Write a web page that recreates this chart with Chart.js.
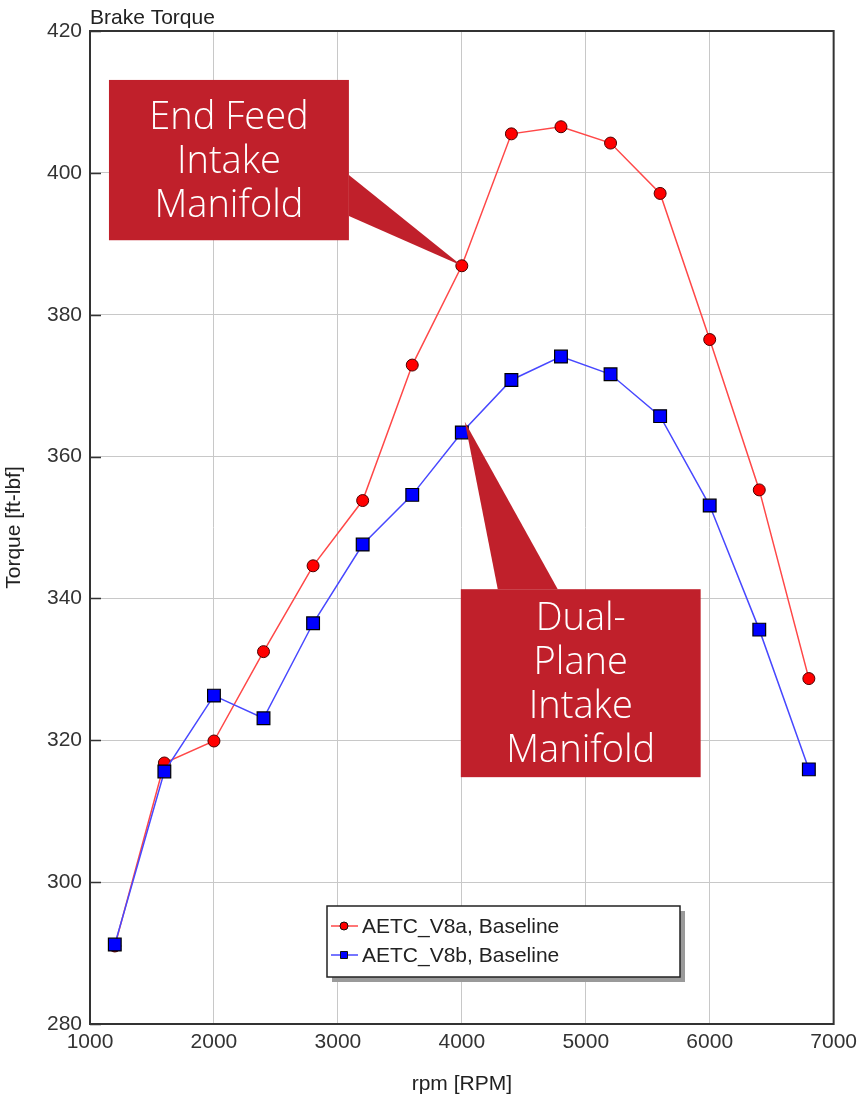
<!DOCTYPE html>
<html>
<head>
<meta charset="utf-8">
<script src="https://cdn.jsdelivr.net/npm/chart.js@4"></script>
<style>
  html, body { margin: 0; padding: 0; background: #fff; }
  #wrap { width: 863px; height: 1100px; }
</style>
</head>
<body>
<div id="wrap"><canvas id="torqueChart" width="863" height="1100"></canvas></div>
<script>
// engine speed points
const rpm = [1200, 1600, 2000, 2400, 2800, 3200, 3600, 4000, 4400, 4800, 5200, 5600, 6000, 6400, 6800];
// Brake torque [ft-lbf]
const torqueV8a = [291.0, 316.8, 319.9, 332.5, 344.6, 353.8, 372.9, 386.9, 405.5, 406.5, 404.2, 397.1, 376.5, 355.3, 328.7];
const torqueV8b = [291.2, 315.6, 326.3, 323.1, 336.5, 347.6, 354.6, 363.4, 370.8, 374.1, 371.6, 365.7, 353.1, 335.6, 315.9];
const seriesNames = ['AETC_V8a, Baseline', 'AETC_V8b, Baseline'];
const xRange = [1000, 7000];
const yRange = [280, 420];

// callouts (data units)
const callouts = [
    { lines: ['End Feed', 'Intake', 'Manifold'], box: [1153, 413.1, 3089, 390.5],
      base: [[3089, 399.7], [3089, 393.9]], tip: [4000, 386.9] },
    { lines: ['Dual-', 'Plane', 'Intake', 'Manifold'], box: [3992, 341.3, 5927, 314.8],
      base: [[4290, 341.3], [4774, 341.3]], tip: [4024, 364.9] }
];

const FONT = "'Liberation Sans', Arial, sans-serif";

const extras = {
    id: 'extras',
    afterDraw(chart) {
        const { ctx, chartArea: a, scales: { x, y } } = chart;
        ctx.save();

        // plot frame
        ctx.strokeStyle = '#333';
        ctx.lineWidth = 2;
        ctx.strokeRect(a.left, a.top, a.right - a.left, a.bottom - a.top);

        // inward ticks on y axis
        ctx.lineWidth = 1.5;
        ctx.beginPath();
        for (let v = yRange[0]; v <= yRange[1]; v += 20) {
            const py = Math.round(y.getPixelForValue(v)) + 0.5;
            ctx.moveTo(a.left, py);
            ctx.lineTo(a.left + 11, py);
        }
        ctx.stroke();

        // title
        ctx.fillStyle = '#222';
        ctx.font = '21px ' + FONT;
        ctx.textAlign = 'left';
        ctx.textBaseline = 'alphabetic';
        ctx.fillText('Brake Torque', a.left, a.top - 7);

        // callouts
        callouts.forEach(c => {
            const x0 = x.getPixelForValue(c.box[0]), y0 = y.getPixelForValue(c.box[1]);
            const x1 = x.getPixelForValue(c.box[2]), y1 = y.getPixelForValue(c.box[3]);
            ctx.fillStyle = '#c0202b';
            ctx.fillRect(x0, y0, x1 - x0, y1 - y0);
            ctx.beginPath();
            ctx.moveTo(x.getPixelForValue(c.base[0][0]), y.getPixelForValue(c.base[0][1]));
            ctx.lineTo(x.getPixelForValue(c.tip[0]), y.getPixelForValue(c.tip[1]));
            ctx.lineTo(x.getPixelForValue(c.base[1][0]), y.getPixelForValue(c.base[1][1]));
            ctx.closePath();
            ctx.fill();
            ctx.fillStyle = '#fff';
            ctx.font = "300 38px 'Open Sans', sans-serif";
            ctx.textAlign = 'center';
            ctx.textBaseline = 'middle';
            const cx = (x0 + x1) / 2, cy = (y0 + y1) / 2, lh = 44;
            c.lines.forEach((t, i) => {
                ctx.fillText(t, cx, cy + 2 + (i - (c.lines.length - 1) / 2) * lh);
            });
        });

        // legend box
        const L = 327, T = 906, W = 353, H = 71;
        ctx.fillStyle = '#9a9a9a';
        ctx.fillRect(L + 5, T + 5, W, H);
        ctx.fillStyle = '#fff';
        ctx.fillRect(L, T, W, H);
        ctx.strokeStyle = '#222';
        ctx.lineWidth = 1.5;
        ctx.strokeRect(L, T, W, H);
        chart.data.datasets.forEach((ds, i) => {
            const ry = T + 20 + i * 29;
            ctx.strokeStyle = ds.borderColor;
            ctx.lineWidth = 1.5;
            ctx.beginPath();
            ctx.moveTo(L + 4, ry);
            ctx.lineTo(L + 31, ry);
            ctx.stroke();
            ctx.fillStyle = ds.pointBackgroundColor;
            ctx.strokeStyle = '#111';
            ctx.lineWidth = 1;
            ctx.beginPath();
            if (ds.pointStyle === 'circle') {
                ctx.arc(L + 17, ry, 4, 0, Math.PI * 2);
            } else {
                ctx.rect(L + 13.5, ry - 3.5, 7, 7);
            }
            ctx.fill();
            ctx.stroke();
            ctx.fillStyle = '#222';
            ctx.font = '21px ' + FONT;
            ctx.textAlign = 'left';
            ctx.textBaseline = 'middle';
            ctx.fillText(ds.label, L + 35, ry + 1);
        });
        ctx.restore();
    }
};

new Chart(document.getElementById('torqueChart').getContext('2d'), {
    type: 'line',
    data: {
        datasets: [{
            label: seriesNames[0],
            data: rpm.map((r, i) => ({ x: r, y: torqueV8a[i] })),
            borderColor: '#ff4848',
            borderWidth: 1.5,
            pointStyle: 'circle',
            pointRadius: 6,
            pointBackgroundColor: '#ff0000',
            pointBorderColor: '#4a0000',
            pointBorderWidth: 1,
            order: 1
        }, {
            label: seriesNames[1],
            data: rpm.map((r, i) => ({ x: r, y: torqueV8b[i] })),
            borderColor: '#4848ff',
            borderWidth: 1.5,
            pointStyle: 'rect',
            pointRadius: 9,
            pointBackgroundColor: '#0000ff',
            pointBorderColor: '#000',
            pointBorderWidth: 1.2,
            order: 0
        }]
    },
    options: {
        responsive: false,
        animation: false,
        layout: { padding: { top: 31, right: 29, left: 0, bottom: 0 } },
        plugins: {
            legend: { display: false },
            tooltip: { enabled: false }
        },
        scales: {
            x: {
                type: 'linear',
                min: xRange[0],
                max: xRange[1],
                ticks: { stepSize: 1000, color: '#333', font: { family: FONT, size: 21 }, padding: 6, maxRotation: 0,
                         callback: v => String(v) },
                grid: { color: '#c8c8c8', lineWidth: 1, drawTicks: false },
                border: { display: false },
                title: { display: true, text: 'rpm [RPM]', color: '#222', font: { family: FONT, size: 21 }, padding: { top: 0, bottom: 3 } },
                afterFit(s) { s.height = 76; }
            },
            y: {
                min: yRange[0],
                max: yRange[1],
                ticks: { stepSize: 20, color: '#333', font: { family: FONT, size: 21 }, padding: 8 },
                grid: { color: '#c8c8c8', lineWidth: 1, drawTicks: false },
                border: { display: false },
                title: { display: true, text: 'Torque [ft-lbf]', color: '#222', font: { family: FONT, size: 21 }, padding: { top: 2, bottom: 0 } },
                afterFit(s) { s.width = 90; }
            }
        }
    },
    plugins: [extras]
});
</script>
</body>
</html>
